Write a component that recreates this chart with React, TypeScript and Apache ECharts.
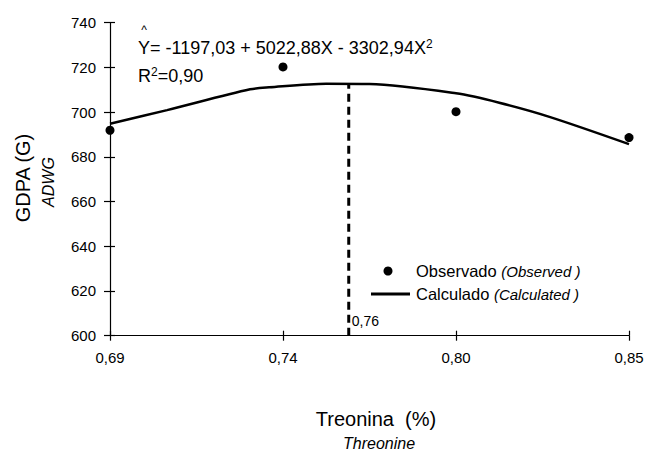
import React, { useEffect, useRef } from "react";
import * as echarts from "echarts";

const tickLabels = ["0,69", "0,74", "0,80", "0,85"];
const observedX = [0, 1, 2, 3];
const observedY = [691.9, 720.2, 700.2, 688.6];
const curveX = [0, 0.33, 0.81, 0.92, 1.25, 1.5, 2.0, 2.25, 2.54, 3];
const curveY = [694.8, 700.9, 710.2, 711.1, 712.7, 712.6, 708.4, 704.2, 697.9, 685.7];
const optimumX = 1.38;
const optimumLabel = "0,76";
const optimumTop = 712.6;
const yMin = 600;
const yMax = 740;
const yStep = 20;

const FONT = "Liberation Sans, Arial, sans-serif";

export default function App() {
  const ref = useRef<HTMLDivElement>(null);
  useEffect(() => {
    document.body.style.margin = "0";
    const chart = echarts.init(ref.current!, undefined, { renderer: "svg" });
    const axisCommon = {
      axisLine: { lineStyle: { color: "#000", width: 1.2 } },
      splitLine: { show: false },
    };
    chart.setOption({
      animation: false,
      backgroundColor: "#fff",
      textStyle: { fontFamily: FONT, color: "#000" },
      grid: { left: 110, right: 18, top: 22.7, bottom: 116.3 },
      xAxis: [
        {
          type: "value",
          min: 0,
          max: 3,
          interval: 1,
          ...axisCommon,
          axisTick: { show: true, length: 5, lineStyle: { color: "#000", width: 1.2 } },
          axisLabel: {
            margin: 14,
            fontSize: 15,
            color: "#000",
            fontFamily: FONT,
            formatter: (v: number) => tickLabels[Math.round(v)] ?? "",
          },
        },
        {
          type: "value",
          position: "bottom",
          min: 0,
          max: 3,
          interval: 1,
          axisLine: { show: false },
          splitLine: { show: false },
          axisTick: { show: true, inside: true, length: 5, lineStyle: { color: "#000", width: 1.2 } },
          axisLabel: { show: false },
        },
      ],
      yAxis: [
        {
          type: "value",
          min: yMin,
          max: yMax,
          interval: yStep,
          ...axisCommon,
          axisTick: { show: true, length: 6, lineStyle: { color: "#000", width: 1.2 } },
          axisLabel: { margin: 14, fontSize: 15, color: "#000", fontFamily: FONT },
        },
        {
          type: "value",
          position: "left",
          min: yMin,
          max: yMax,
          interval: yStep,
          axisLine: { show: false },
          splitLine: { show: false },
          axisTick: { show: true, inside: true, length: 5, lineStyle: { color: "#000", width: 1.2 } },
          axisLabel: { show: false },
        },
      ],
      series: [
        {
          type: "line",
          data: curveX.map((x, i) => [x, curveY[i]]),
          smooth: 0.3,
          showSymbol: false,
          lineStyle: { color: "#000", width: 2.5 },
          z: 3,
        },
        {
          type: "line",
          data: [
            {
              value: [optimumX, yMin],
              label: {
                show: true,
                formatter: optimumLabel,
                position: "right",
                offset: [-2, -15],
                fontSize: 14,
                color: "#000",
                fontFamily: FONT,
              },
            },
            { value: [optimumX, optimumTop] },
          ],
          showSymbol: true,
          symbolSize: 0,
          lineStyle: { color: "#000", width: 3, type: [8, 5] },
          z: 2,
        },
        {
          type: "scatter",
          data: observedX.map((x, i) => [x, observedY[i]]),
          symbol: "circle",
          symbolSize: 9,
          itemStyle: { color: "#000", opacity: 1 },
          z: 4,
        },
      ],
      graphic: [
        {
          type: "text",
          x: 138,
          y: 48,
          style: {
            text: "{m|Y= -1197,03 + 5022,88X - 3302,94X}{s|2}",
            fontFamily: FONT,
            verticalAlign: "middle",
            fill: "#000",
            rich: {
              m: { fontSize: 18, lineHeight: 20, fontFamily: FONT, fill: "#000" },
              s: { fontSize: 12, lineHeight: 20, verticalAlign: "top", fontFamily: FONT, fill: "#000" },
            },
          },
        },
        {
          type: "text",
          x: 144,
          y: 30,
          style: { text: "^", fontSize: 12, fontFamily: FONT, fill: "#000", align: "center", verticalAlign: "middle" },
        },
        {
          type: "text",
          x: 138,
          y: 76,
          style: {
            text: "{m|R}{s|2}{m|=0,90}",
            fontFamily: FONT,
            verticalAlign: "middle",
            fill: "#000",
            rich: {
              m: { fontSize: 18, lineHeight: 20, fontFamily: FONT, fill: "#000" },
              s: { fontSize: 12, lineHeight: 20, verticalAlign: "top", fontFamily: FONT, fill: "#000" },
            },
          },
        },
        {
          type: "circle",
          shape: { cx: 388, cy: 271, r: 4.5 },
          style: { fill: "#000" },
        },
        {
          type: "text",
          x: 416,
          y: 271,
          style: {
            text: "{n|Observado }{i|(Observed )}",
            verticalAlign: "middle",
            rich: {
              n: { fontSize: 16.5, fontFamily: FONT, fill: "#000" },
              i: { fontSize: 15, fontStyle: "italic", fontFamily: FONT, fill: "#000" },
            },
          },
        },
        {
          type: "line",
          shape: { x1: 371, y1: 294, x2: 410, y2: 294 },
          style: { stroke: "#000", lineWidth: 3 },
        },
        {
          type: "text",
          x: 416,
          y: 294,
          style: {
            text: "{n|Calculado }{i|(Calculated )}",
            verticalAlign: "middle",
            rich: {
              n: { fontSize: 16.5, fontFamily: FONT, fill: "#000" },
              i: { fontSize: 15, fontStyle: "italic", fontFamily: FONT, fill: "#000" },
            },
          },
        },
        {
          type: "text",
          x: 23,
          y: 178,
          rotation: Math.PI / 2,
          style: { text: "GDPA (G)", fontSize: 20, fontFamily: FONT, fill: "#000", align: "center", verticalAlign: "middle" },
        },
        {
          type: "text",
          x: 48,
          y: 182,
          rotation: Math.PI / 2,
          style: { text: "ADWG", fontSize: 16, fontStyle: "italic", fontFamily: FONT, fill: "#000", align: "center", verticalAlign: "middle" },
        },
        {
          type: "text",
          x: 376,
          y: 419,
          style: { text: "Treonina  (%)", fontSize: 20, fontFamily: FONT, fill: "#000", align: "center", verticalAlign: "middle" },
        },
        {
          type: "text",
          x: 379,
          y: 443,
          style: { text: "Threonine", fontSize: 16, fontStyle: "italic", fontFamily: FONT, fill: "#000", align: "center", verticalAlign: "middle" },
        },
      ],
    });
    return () => chart.dispose();
  }, []);
  return <div ref={ref} style={{ width: 647, height: 452 }} />;
}
